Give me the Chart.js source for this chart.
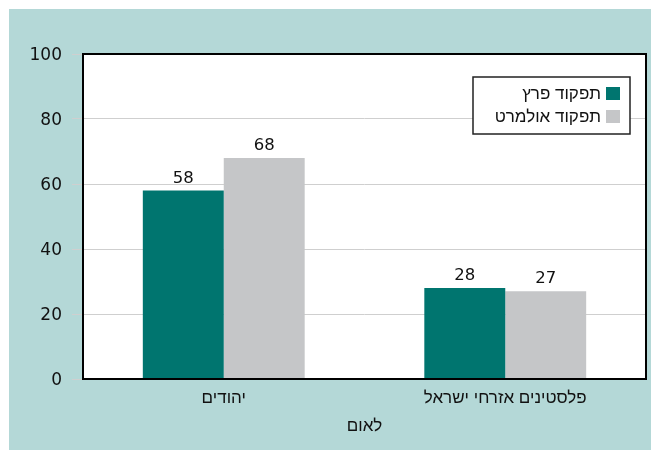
<!DOCTYPE html>
<html lang="he">
<head>
<meta charset="utf-8">
<script src="https://cdn.jsdelivr.net/npm/chart.js@4/dist/chart.umd.min.js"></script>
<style>
  html, body { margin: 0; padding: 0; background: #fff; }
  #wrap { width: 659px; height: 457px; }
</style>
</head>
<body>
<div id="wrap"><canvas id="grafica"></canvas></div>
<script>
// Datos de la gráfica
const categorias = ['יהודים', 'פלסטינים אזרחי ישראל'];
const seriePeretz = [58, 28];
const serieOlmert = [68, 27];
const nombresSeries = ['תפקוד פרץ', 'תפקוד אולמרט'];
const ticksY = [0, 20, 40, 60, 80, 100];
const tituloX = 'לאום';

const TEAL = '#00756f';
const GRIS = '#c5c6c8';
const FONDO = '#b4d8d7';
const FUENTE_HE = '"Liberation Sans", Arial, sans-serif';
const FUENTE_NUM = '"DejaVu Sans", sans-serif';

// fondo verde claro con margen blanco
const fondoPlugin = {
  id: 'fondo',
  beforeDraw(chart) {
    const ctx = chart.ctx;
    ctx.save();
    ctx.fillStyle = FONDO;
    ctx.fillRect(9, 9, 642, 441);
    const a = chart.chartArea;
    ctx.fillStyle = '#fff';
    ctx.fillRect(a.left, a.top, a.right - a.left, a.bottom - a.top);
    ctx.restore();
  }
};

// marco negro, etiquetas de valores y leyenda
const extrasPlugin = {
  id: 'extras',
  afterDraw(chart) {
    const ctx = chart.ctx;
    const a = chart.chartArea;
    ctx.save();
    ctx.strokeStyle = '#000';
    ctx.lineWidth = 2;
    ctx.strokeRect(a.left, a.top, a.right - a.left, a.bottom - a.top);

    // valores encima de las barras
    ctx.fillStyle = '#111';
    ctx.font = '16.5px ' + FUENTE_NUM;
    ctx.textAlign = 'center';
    ctx.textBaseline = 'alphabetic';
    chart.data.datasets.forEach((ds, i) => {
      chart.getDatasetMeta(i).data.forEach((bar, j) => {
        ctx.fillText(String(ds.data[j]), bar.x, bar.y - 8);
      });
    });

    // leyenda
    const lx = 473, ly = 77, lw = 157, lh = 57;
    ctx.fillStyle = '#fff';
    ctx.fillRect(lx, ly, lw, lh);
    ctx.strokeStyle = '#222';
    ctx.lineWidth = 1.5;
    ctx.strokeRect(lx, ly, lw, lh);
    ctx.font = '17px ' + FUENTE_HE;
    ctx.textAlign = 'right';
    ctx.textBaseline = 'middle';
    chart.data.datasets.forEach((ds, i) => {
      const cy = 93 + i * 23;
      ctx.fillStyle = ds.backgroundColor;
      ctx.fillRect(606, cy - 6, 14, 13);
      ctx.fillStyle = '#111';
      ctx.fillText(ds.label, 601, cy + 1);
    });
    ctx.restore();
  }
};

const ctx = document.getElementById('grafica').getContext('2d');
const chart = new Chart(ctx, {
  type: 'bar',
  data: {
    labels: categorias,
    datasets: [
      { label: nombresSeries[0], data: seriePeretz, backgroundColor: TEAL },
      { label: nombresSeries[1], data: serieOlmert, backgroundColor: GRIS }
    ]
  },
  options: {
    responsive: true,
    maintainAspectRatio: false,
    animation: false,
    devicePixelRatio: 1,
    layout: { padding: { top: 54, bottom: 20, left: 0, right: 13 } },
    categoryPercentage: 0.575,
    barPercentage: 1,
    plugins: {
      legend: { display: false },
      tooltip: { enabled: false }
    },
    scales: {
      x: {
        afterFit: (s) => { s.height = 58; },
        grid: { display: false, drawTicks: false },
        border: { display: false },
        ticks: { color: '#111', font: { family: FUENTE_HE, size: 17 }, padding: 9, maxRotation: 0 },
        title: { display: true, text: tituloX, color: '#111', font: { family: FUENTE_HE, size: 17 }, padding: 0 }
      },
      y: {
        min: 0,
        max: 100,
        afterFit: (s) => { s.width = 83; },
        afterBuildTicks: (s) => { s.ticks = ticksY.map(v => ({ value: v })); },
        grid: { color: '#cfcfcf', lineWidth: 1, tickLength: 11 },
        border: { display: false },
        ticks: { color: '#111', font: { family: FUENTE_NUM, size: 17 }, padding: 10, labelOffset: 2 }
      }
    }
  },
  plugins: [fondoPlugin, extrasPlugin]
});
</script>
</body>
</html>
